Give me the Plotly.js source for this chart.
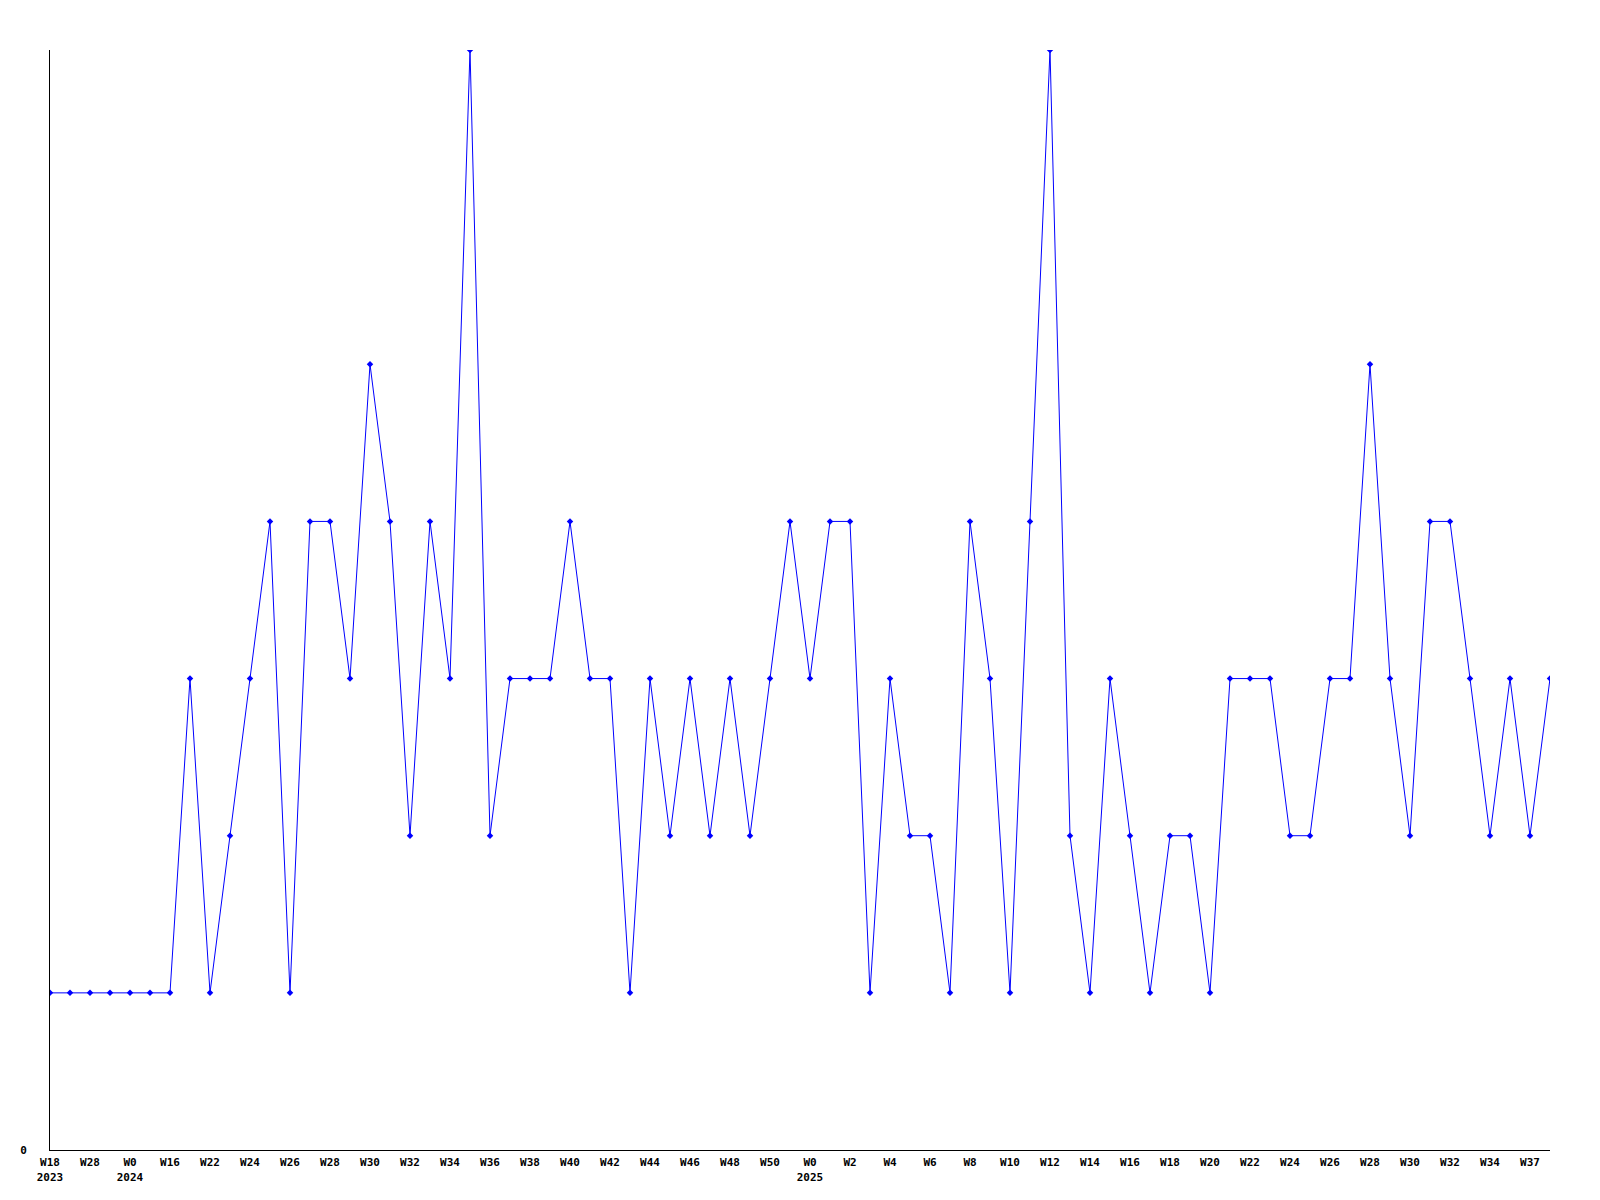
<!DOCTYPE html>
<html>
<head>
<meta charset="utf-8">
<script src="https://cdn.plot.ly/plotly-3.0.1.min.js"></script>
<style>html,body{margin:0;padding:0;background:#fff;}#chart{width:1600px;height:1200px;}</style>
</head>
<body>
<div id="chart"></div>
<script>
// Week categories (unlabeled ones between labelled ticks are estimates)
const categories = [
  "2023-W18","2023-W22","2023-W28","2023-W40","2024-W0","2024-W8","2024-W16","2024-W20",
  "2024-W22","2024-W23","2024-W24","2024-W25","2024-W26","2024-W27","2024-W28","2024-W29",
  "2024-W30","2024-W31","2024-W32","2024-W33","2024-W34","2024-W35","2024-W36","2024-W37",
  "2024-W38","2024-W39","2024-W40","2024-W41","2024-W42","2024-W43","2024-W44","2024-W45",
  "2024-W46","2024-W47","2024-W48","2024-W49","2024-W50","2024-W51","2025-W0","2025-W1",
  "2025-W2","2025-W3","2025-W4","2025-W5","2025-W6","2025-W7","2025-W8","2025-W9",
  "2025-W10","2025-W11","2025-W12","2025-W13","2025-W14","2025-W15","2025-W16","2025-W17",
  "2025-W18","2025-W19","2025-W20","2025-W21","2025-W22","2025-W23","2025-W24","2025-W25",
  "2025-W26","2025-W27","2025-W28","2025-W29","2025-W30","2025-W31","2025-W32","2025-W33",
  "2025-W34","2025-W35","2025-W37","2025-W38"
];

const values = [
  1,1,1,1,1,1,1,3,
  1,2,3,4,1,4,4,3,
  5,4,2,4,3,7,2,3,
  3,3,4,3,3,1,3,2,
  3,2,3,2,3,4,3,4,
  4,1,3,2,2,1,4,3,
  1,4,7,2,1,3,2,1,
  2,2,1,3,3,3,2,2,
  3,3,5,3,2,4,4,3,
  2,3,2,3
];

// Tick labels shown on every second category
const tickLabels = [
  "W18<br>2023","W28","W0<br>2024","W16","W22","W24","W26","W28","W30","W32",
  "W34","W36","W38","W40","W42","W44","W46","W48","W50","W0<br>2025",
  "W2","W4","W6","W8","W10","W12","W14","W16","W18","W20",
  "W22","W24","W26","W28","W30","W32","W34","W37"
];

const xIdx = categories.map((_, i) => i);
const tickVals = tickLabels.map((_, i) => i * 2);

const font = {family: "DejaVu Sans Mono, monospace", size: 11, color: "#000", weight: "bold"};

Plotly.newPlot("chart", [{
  x: xIdx,
  y: values,
  text: categories,
  type: "scatter",
  mode: "lines+markers",
  line: {color: "#0000ff", width: 1},
  marker: {color: "#0000ff", symbol: "diamond", size: 5},
  hovertemplate: "%{text}: %{y}<extra></extra>",
  cliponaxis: true
}], {
  width: 1600,
  height: 1200,
  margin: {l: 50, r: 50, t: 50, b: 50},
  paper_bgcolor: "#fff",
  plot_bgcolor: "#fff",
  showlegend: false,
  font: font,
  xaxis: {
    range: [0, 75],
    tickmode: "array",
    tickvals: tickVals,
    ticktext: tickLabels,
    showgrid: false,
    zeroline: false,
    showline: true,
    linecolor: "#000",
    linewidth: 1,
    ticks: "",
    ticklabelstandoff: 2,
    tickfont: font,
    fixedrange: true
  },
  yaxis: {
    range: [0, 7],
    tickmode: "array",
    tickvals: [0],
    ticktext: ["0"],
    showgrid: false,
    zeroline: false,
    showline: true,
    linecolor: "#000",
    linewidth: 1,
    ticks: "",
    ticklabelstandoff: 20,
    tickfont: font,
    fixedrange: true
  }
}, {displayModeBar: false, staticPlot: true});
</script>
</body>
</html>
